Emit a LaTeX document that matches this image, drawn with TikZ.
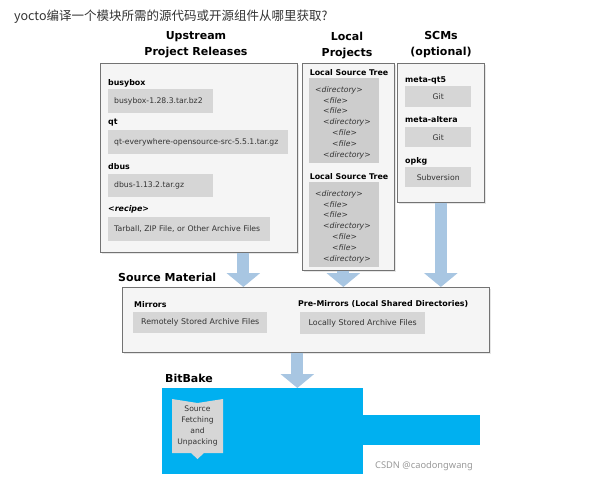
\documentclass[tikz,border=0pt]{standalone}
\usepackage{fontspec}
\setmainfont{DejaVu Sans}
\newfontfamily\cjk{Noto Sans CJK SC}
\newfontfamily\wmfont{Noto Sans}
\usetikzlibrary{arrows.meta,shadows}

\definecolor{boxgray}{HTML}{D6D6D6}
\definecolor{treegray}{HTML}{CDCDCD}
\definecolor{panelgray}{HTML}{F5F5F5}
\definecolor{arrowblue}{HTML}{A8C6E2}
\definecolor{bbblue}{HTML}{00B0F0}

\tikzset{
    head/.style = {font=\bfseries\fontsize{11}{16}\selectfont, align=center, inner sep=0},
    panel/.style = {draw=black!55, fill=panelgray, line width=0.7pt, anchor=north west, inner sep=0,
                    drop shadow={shadow xshift=1.2pt, shadow yshift=-1.2pt, opacity=0.2}},
    tag/.style = {font=\bfseries\fontsize{7.9}{9}\selectfont, anchor=west, inner sep=0},
    filebox/.style = {fill=boxgray, anchor=north west, inner xsep=6pt, inner ysep=0,
                      font=\fontsize{7.7}{9}\selectfont, text=black!80, align=left},
    treebox/.style = {fill=treegray, anchor=north west, inner sep=0},
    entry/.style = {font=\itshape\fontsize{7.7}{9}\selectfont, text=black!80, anchor=west, inner sep=0},
    fatarrow/.style = {draw=arrowblue, line width=12pt, -{Triangle[width=33pt,length=14pt]}}
}

\begin{document}
\begin{tikzpicture}[x=1pt, y=-1pt]
    \useasboundingbox (0,0) rectangle (599,490);

    \node[anchor=west, inner sep=0, font=\cjk\fontsize{12.5}{14}\selectfont, text=black!80] (title) at (14,17) {yocto编译一个模块所需的源代码或开源组件从哪里获取?};

    % headers
    \node[head] (uphead) at (196,45) {Upstream\\Project Releases};
    \node[head] (localhead) at (347,46) {Local\\Projects};
    \node[head] (scmhead) at (441,45) {SCMs\\(optional)};

    % upstream project releases
    \node[panel, minimum width=197pt, minimum height=189pt] (up) at (100,63) {};
    \node[tag] (busybox) at (108,83) {busybox};
    \node[filebox, text width=93pt, minimum height=24pt] (bbfile) at (108,89) {busybox-1.28.3.tar.bz2};
    \node[tag] (qt) at (108,123) {qt};
    \node[filebox, text width=168pt, minimum height=24pt] (qtfile) at (108,130) {qt-everywhere-opensource-src-5.5.1.tar.gz};
    \node[tag] (dbus) at (108,167) {dbus};
    \node[filebox, text width=93pt, minimum height=23pt] (dbusfile) at (108,174) {dbus-1.13.2.tar.gz};
    \node[tag, font=\bfseries\itshape\fontsize{7.9}{9}\selectfont] (recipe) at (108,209) {<recipe>};
    \node[filebox, text width=150pt, minimum height=24pt] (recipefile) at (108,217) {Tarball, ZIP File, or Other Archive Files};

    % local projects
    \node[panel, minimum width=92pt, minimum height=207pt] (local) at (302,63) {};
    \foreach \t/\top in {1/78, 2/182} {
        \node[tag, anchor=center] (tree\t) at (349,\top-5) {Local Source Tree};
        \node[treebox, minimum width=70pt, minimum height=85pt] (treebox\t) at (309,\top) {};
        \node[entry] at (315,\top+12) {<directory>};
        \node[entry] at (323,\top+22.5) {<file>};
        \node[entry] at (323,\top+33) {<file>};
        \node[entry] at (323,\top+44) {<directory>};
        \node[entry] at (332,\top+55) {<file>};
        \node[entry] at (332,\top+65.5) {<file>};
        \node[entry] at (323,\top+77.5) {<directory>};
    }

    % scms
    \node[panel, minimum width=87pt, minimum height=139pt] (scm) at (397,63) {};
    \node[tag] (qt5) at (405,80) {meta-qt5};
    \node[filebox, text width=54pt, minimum height=21pt, align=center] (qt5git) at (405,86) {Git};
    \node[tag] (altera) at (405,120) {meta-altera};
    \node[filebox, text width=54pt, minimum height=20pt, align=center] (alteragit) at (405,127) {Git};
    \node[tag] (opkg) at (405,161) {opkg};
    \node[filebox, text width=54pt, minimum height=20pt, align=center] (opkgsvn) at (405,167) {Subversion};

    % source material
    \node[head, anchor=west] (srchead) at (118,277) {Source Material};
    \node[panel, minimum width=367pt, minimum height=65pt] (src) at (122,287) {};
    \node[tag] (mirrors) at (134,305) {Mirrors};
    \node[filebox, font=\fontsize{7.9}{9}\selectfont, inner xsep=3pt, text width=128pt, minimum height=21pt, align=center] (remote) at (133,312) {Remotely Stored Archive Files};
    \node[tag] (premirrors) at (298,304) {Pre-Mirrors (Local Shared Directories)};
    \node[filebox, font=\fontsize{7.9}{9}\selectfont, inner xsep=3pt, text width=119pt, minimum height=22pt, align=center] (localfiles) at (300,312) {Locally Stored Archive Files};

    \draw[fatarrow] ([xshift=44.5pt]up.south) -- ([xshift=44.5pt]up.south |- src.north);
    \draw[fatarrow] ([xshift=-5pt]local.south) -- ([xshift=-5pt]local.south |- src.north);
    \draw[fatarrow] (scm.south) -- (scm.south |- src.north);

    % bitbake
    \node[head, anchor=west] (bbhead) at (165,378) {BitBake};
    \node[fill=bbblue, anchor=north west, inner sep=0, minimum width=201pt, minimum height=86pt] (bb) at (162,388) {};
    \node[fill=bbblue, anchor=north west, inner sep=0, minimum width=118pt, minimum height=30pt] (bbtail) at (362,415) {};
    \draw[fatarrow] ([xshift=-8.5pt]src.south) -- ([xshift=-8.5pt]src.south |- bb.north);

    \fill[boxgray] (172,399) -- (197.5,403) -- (223,399) -- (223,453) -- (204,453) -- (197.5,459) -- (191,453) -- (172,453) -- cycle;
    \node[font=\fontsize{7.6}{10.7}\selectfont, text=black!80, align=center, inner sep=0] (fetch) at (197.5,426) {Source\\Fetching\\and\\Unpacking};

    \node[anchor=west, inner sep=0, font=\wmfont\fontsize{9.3}{11}\selectfont, text=black!40] (mark) at (375,466) {CSDN @caodongwang};
\end{tikzpicture}
\end{document}
